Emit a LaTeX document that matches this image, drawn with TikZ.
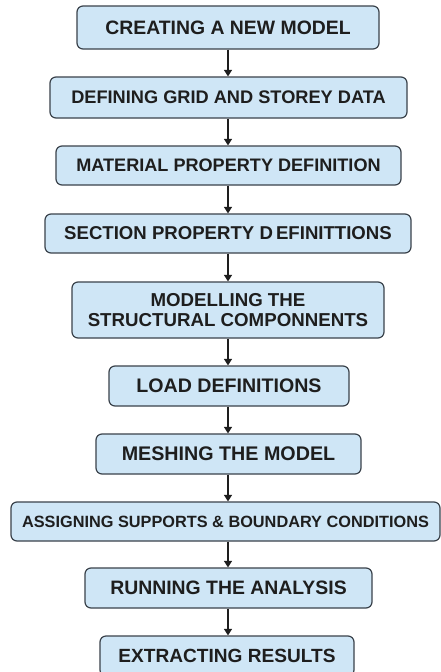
\documentclass[tikz,border=0pt]{standalone}
\usepackage{fontspec}
\setmainfont{Liberation Sans}
\usetikzlibrary{arrows.meta}
\definecolor{boxfill}{HTML}{CFE6F6}
\definecolor{boxline}{HTML}{3A424B}
\definecolor{inkdark}{HTML}{1E1E1E}
\begin{document}
\begin{tikzpicture}[x=1pt,y=-1pt,
  stepbox/.style 2 args={draw=boxline, line width=1.2pt, fill=boxfill,
    rounded corners=6pt, inner sep=0pt, minimum width=#1, minimum height=#2,
    text=inkdark, align=center},
  fs/.style={font=\fontsize{#1}{20}\selectfont\bfseries},
  flow/.style={draw=inkdark, line width=1.1pt,
    -{Triangle[width=8pt,length=6.5pt]}}]
\path[use as bounding box] (0,0) rectangle (441,672);
\clip (0,0) rectangle (441,672);
\fill[white] (0,0) rectangle (441,672);

\node[stepbox={302pt}{43pt}, fs=19.4] (s1) at (228,27.5) {CREATING A NEW MODEL};
\node[stepbox={357pt}{41pt}, fs=18.2] (s2) at (228.5,97.5) {DEFINING GRID AND STOREY DATA};
\node[stepbox={345pt}{39pt}, fs=18.1] (s3) at (228.5,165.5) {MATERIAL PROPERTY DEFINITION};
\node[stepbox={366pt}{39pt}, fs=18.6] (s4) at (228,233.5) {SECTION PROPERTY D\,EFINITTIONS};
\node[stepbox={312pt}{56pt}, fs=18.7] (s5) at (228,310) {MODELLING THE\\STRUCTURAL COMPONNENTS};
\node[stepbox={240pt}{40pt}, fs=19.6] (s6) at (229,386) {LOAD DEFINITIONS};
\node[stepbox={265pt}{40pt}, fs=19.7] (s7) at (228.5,454) {MESHING THE MODEL};
\node[stepbox={429pt}{39pt}, fs=16.3] (s8) at (225.5,521.5) {ASSIGNING SUPPORTS \& BOUNDARY CONDITIONS};
\node[stepbox={287pt}{40pt}, fs=19.4] (s9) at (228.5,588) {RUNNING THE ANALYSIS};
\node[stepbox={254pt}{40pt}, fs=19.1] (s10) at (227,656) {EXTRACTING RESULTS};

\foreach \a/\b in {s1/s2,s2/s3,s3/s4,s4/s5,s5/s6,s6/s7,s7/s8,s8/s9,s9/s10}
  \draw[flow] (\a.south -| s1.center) -- (\b.north -| s1.center);
\end{tikzpicture}
\end{document}
